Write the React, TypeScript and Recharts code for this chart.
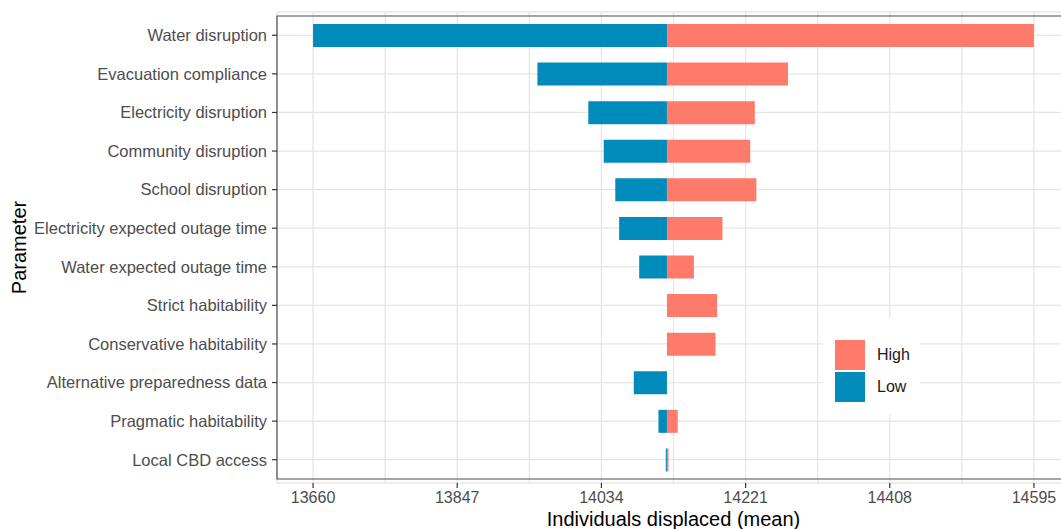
import React from 'react';
import { BarChart, Bar, XAxis, YAxis, CartesianGrid, Legend, ReferenceArea } from 'recharts';

const parameters = [
  'Water disruption',
  'Evacuation compliance',
  'Electricity disruption',
  'Community disruption',
  'School disruption',
  'Electricity expected outage time',
  'Water expected outage time',
  'Strict habitability',
  'Conservative habitability',
  'Alternative preparedness data',
  'Pragmatic habitability',
  'Local CBD access',
];

const baseline = 14119;
const lowValues = [13660, 13951, 14017, 14037, 14052, 14057, 14083, 14119, 14119, 14076, 14108, 14117.5];
const highValues = [14595, 14276, 14233, 14227, 14235, 14191, 14154, 14184, 14182, 14119, 14133, 14121];

const xTicks = [13660, 13847, 14034, 14221, 14408, 14595];

const COLORS = { high: '#fe7b6b', low: '#008bba' };
const FONT = '"Liberation Sans", Arial, sans-serif';

const data = parameters.map((name, i) => ({
  name,
  low: [lowValues[i], baseline],
  high: [baseline, highValues[i]],
}));

// ggplot style 5% expansion of the data range
const allVals = [...lowValues, ...highValues];
const dMin = Math.min(...allVals);
const dMax = Math.max(...allVals);
const pad = (dMax - dMin) * 0.05;
const domain = [dMin - pad, dMax + pad];

// minor gridlines half way between majors
const minorTicks = xTicks.slice(1).map((t, i) => (t + xTicks[i]) / 2);
const allTicks = [...xTicks, ...minorTicks].sort((a, b) => a - b);

const XTick = (props: any) => {
  const { x, y, payload } = props;
  if (!xTicks.includes(payload.value)) return null;
  return (
    <g>
      <line x1={x} x2={x} y1={y - 9} y2={y - 4} stroke="#333" strokeWidth={1.2} />
      <text x={x} y={y} dy="0.71em" textAnchor="middle" fill="#4d4d4d" fontSize={16} fontFamily={FONT}>
        {payload.value}
      </text>
    </g>
  );
};

const renderLegend = () => (
  <div style={{ background: '#fff', width: 97, height: 95, boxSizing: 'border-box', paddingTop: 21, paddingLeft: 12 }}>
    {[
      { label: 'High', color: COLORS.high },
      { label: 'Low', color: COLORS.low },
    ].map((item) => (
      <div key={item.label} style={{ display: 'flex', alignItems: 'center', height: 32 }}>
        <div style={{ width: 30, height: 30, background: item.color }} />
        <span style={{ marginLeft: 12, fontSize: 16, color: '#1a1a1a', fontFamily: FONT }}>{item.label}</span>
      </div>
    ))}
  </div>
);

export default function App() {
  return (
    <div style={{ position: 'absolute', left: 0, top: 0, width: 1061, height: 529, overflow: 'hidden', background: '#fff' }}>
      <BarChart
        width={1071}
        height={529}
        data={data}
        layout="vertical"
        margin={{ top: 12, right: 1, bottom: 0, left: 0 }}
      >
        <CartesianGrid stroke="#e6e6e6" strokeWidth={1.3} yAxisId="low" />
        <XAxis
          type="number"
          domain={domain}
          allowDataOverflow
          ticks={allTicks}
          interval={0}
          height={46}
          axisLine={false}
          tickLine={false}
          tickSize={5}
          tickMargin={4}
          tick={<XTick />}
          label={{ value: 'Individuals displaced (mean)', position: 'insideBottom', offset: 3, fontSize: 20, fill: '#000', fontFamily: FONT }}
        />
        <YAxis
          yAxisId="low"
          type="category"
          dataKey="name"
          width={277}
          padding={{ top: 4, bottom: 4 }}
          axisLine={false}
          tickLine={{ stroke: '#333', strokeWidth: 1.2 }}
          tickSize={5}
          tickMargin={5}
          interval={0}
          tick={{ fill: '#4d4d4d', fontSize: 16.5, fontFamily: FONT }}
          label={{ value: 'Parameter', angle: -90, position: 'insideLeft', offset: 19, fontSize: 20, fill: '#000', fontFamily: FONT, style: { textAnchor: 'middle' } }}
        />
        <YAxis yAxisId="high" type="category" dataKey="name" hide width={0} padding={{ top: 4, bottom: 4 }} />
        <Bar yAxisId="low" dataKey="low" fill={COLORS.low} barSize={23} isAnimationActive={false} />
        <Bar yAxisId="high" dataKey="high" fill={COLORS.high} barSize={23} isAnimationActive={false} />
        <ReferenceArea yAxisId="low" x1={domain[0]} x2={domain[1]} fill="none" stroke="#4d4d4d" strokeWidth={1.2} ifOverflow="extendDomain" />
        <Legend
          layout="vertical"
          align="center"
          verticalAlign="middle"
          content={renderLegend}
          wrapperStyle={{ left: 823, top: 318, width: 97, height: 95 }}
        />
      </BarChart>
    </div>
  );
}
